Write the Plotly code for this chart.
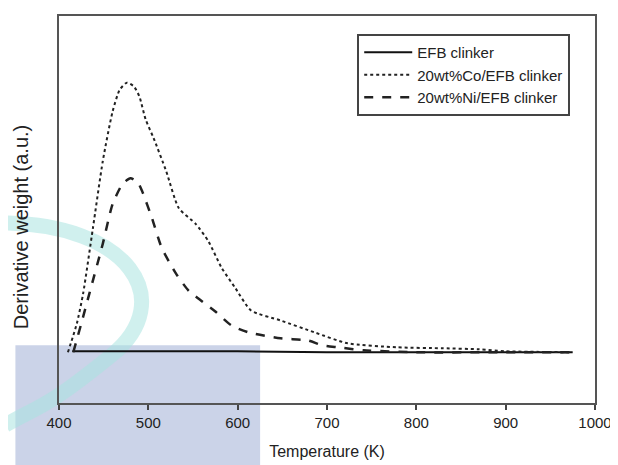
import plotly.graph_objects as go

# ---- data ----
temp_efb = [415, 500, 600, 700, 800, 900, 975]
val_efb = [52, 52, 52, 51, 51, 51, 51]

temp_co = [410, 420, 427, 438, 449, 460, 468, 476, 484, 490, 497, 506, 520, 534,
           553, 567, 582, 597, 615, 648, 686, 723, 778, 830, 870, 900, 975]
val_co = [51, 80, 110, 176, 243, 293, 315, 322, 318, 308, 285, 266, 233, 196,
          180, 163, 136, 116, 93, 83, 71, 60, 56, 55, 54, 52, 51]

temp_ni = [416, 425, 434, 449, 460, 471, 480, 488, 493, 504, 515, 531, 545, 556,
           575, 593, 612, 648, 678, 695, 712, 741, 800, 900, 975]
val_ni = [51, 80, 110, 160, 200, 220, 226, 222, 213, 186, 156, 130, 113, 105,
          92, 78, 71, 65, 63, 58, 56, 53, 51, 51, 51]

names = ["EFB clinker", "20wt%Co/EFB clinker", "20wt%Ni/EFB clinker"]
x_ticks = [400, 500, 600, 700, 800, 900, 1000]
y_title = "Derivative weight (a.u.)"

fig = go.Figure()
fig.add_trace(go.Scatter(x=temp_efb, y=val_efb, mode="lines", name=names[0],
                         line=dict(color="#111111", width=2, dash="solid")))
fig.add_trace(go.Scatter(x=temp_co, y=val_co, mode="lines", name=names[1],
                         line=dict(color="#222222", width=2, dash="dot", shape="spline", smoothing=0.6)))
fig.add_trace(go.Scatter(x=temp_ni, y=val_ni, mode="lines", name=names[2],
                         line=dict(color="#222222", width=2.5, dash="dash", shape="spline", smoothing=0.6)))

# page body has an 8px margin, so the figure is offset by (8, 8)
OFF = 8
W, H = 618 - OFF, 465 - OFF
L, T = 59 - OFF, 14 - OFF
pw, ph = 541, 389
R, B = W - L - pw, H - T - ph

def px(x):
    return (x - 59) / pw

def py(y):
    return (403 - y) / ph

shapes = [
    # watermark: blue rectangle
    dict(type="rect", xref="paper", yref="paper", layer="below",
         x0=px(15), x1=px(262), y0=py(470), y1=py(345),
         fillcolor="rgba(186,196,224,0.75)", line=dict(width=0)),
    # watermark: teal arc
    dict(type="path", xref="paper", yref="paper", layer="below",
         path=(f"M {px(0)},{py(222)} C {px(130)},{py(222)} {px(180)},{py(300)} "
               f"{px(112)},{py(355)} S {px(40)},{py(405)} {px(5)},{py(425)}"),
         line=dict(color="rgba(170,228,224,0.55)", width=15)),
]

annotations = [
    dict(text=y_title, textangle=-90, xref="paper", yref="paper",
         x=px(21), y=py(226), xanchor="center", yanchor="middle",
         showarrow=False, font=dict(size=20, color="#222222")),
]

fig.update_layout(
    width=W, height=H,
    margin=dict(l=L, r=R, t=T, b=B),
    paper_bgcolor="white",
    plot_bgcolor="rgba(0,0,0,0)",
    font=dict(family="Liberation Sans, Arial, sans-serif", size=15, color="#222222"),
    shapes=shapes,
    annotations=annotations,
    showlegend=True,
    legend=dict(x=px(360), y=py(32), xanchor="left", yanchor="top",
                bordercolor="#444444", borderwidth=2, bgcolor="white",
                font=dict(size=15), tracegroupgap=0, itemwidth=48),
    xaxis=dict(range=[400, 1000], tickvals=x_ticks, ticktext=[str(v) for v in x_ticks],
               ticks="outside", ticklen=5, tickwidth=1.5, tickcolor="#444444",
               showline=True, linecolor="#555555", linewidth=2, mirror=True,
               showgrid=False, zeroline=False, tickfont=dict(size=15),
               title=dict(text="Temperature (K)", font=dict(size=16), standoff=16)),
    yaxis=dict(range=[0, 389], showticklabels=False, ticks="",
               showline=True, linecolor="#555555", linewidth=2, mirror=True,
               showgrid=False, zeroline=False),
)

fig.write_html("out.html")
